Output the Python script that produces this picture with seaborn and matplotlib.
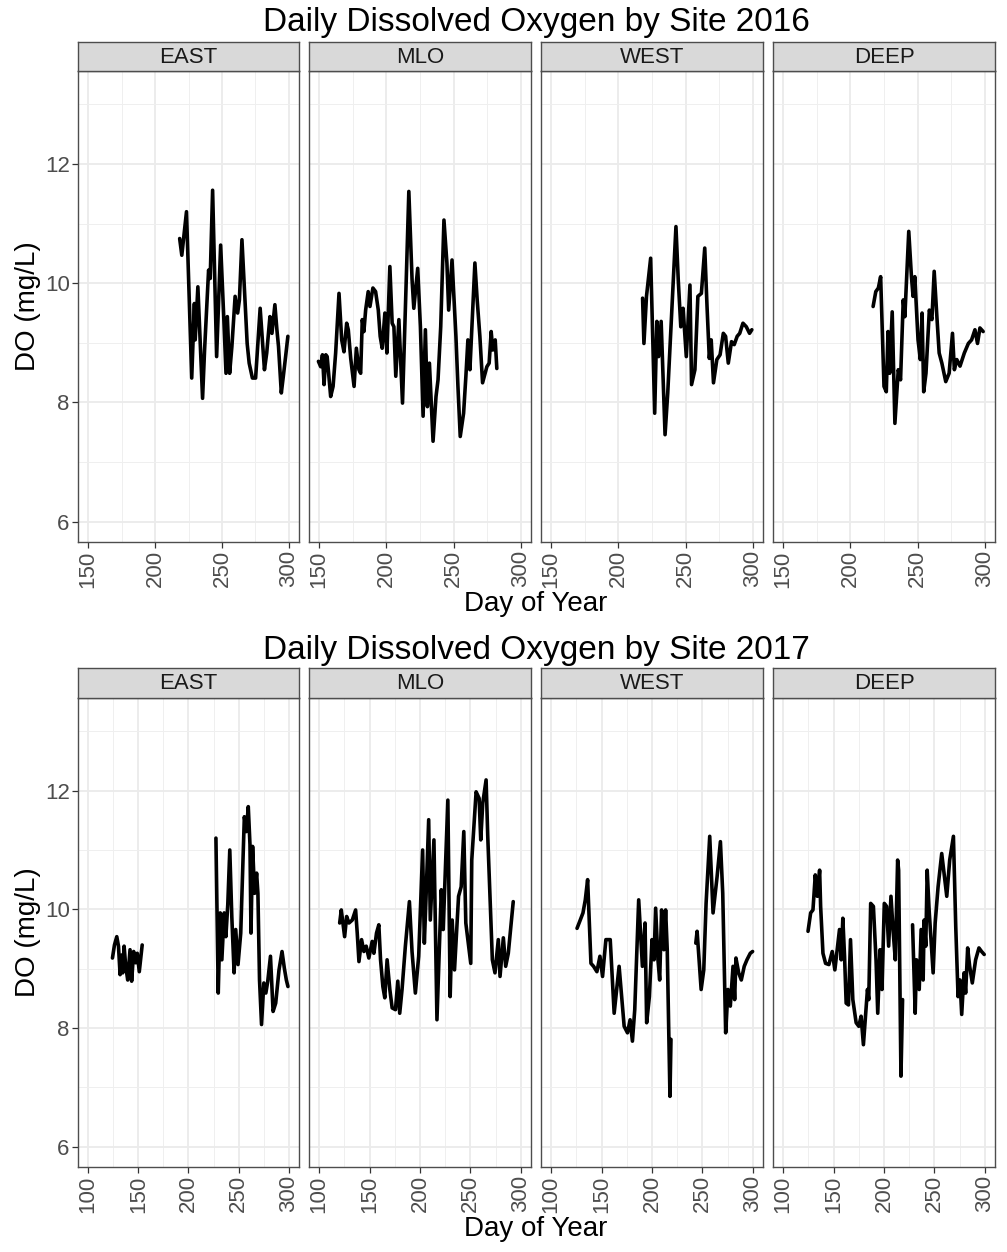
import numpy as np
import pandas as pd
import matplotlib
matplotlib.use("Agg")
import matplotlib.pyplot as plt
from matplotlib.ticker import MultipleLocator
import seaborn as sns

# ---------------------------------------------------------------------------
# Daily dissolved oxygen (mg/L) by day of year, per site and season
# ---------------------------------------------------------------------------
sites = ["EAST", "MLO", "WEST", "DEEP"]
years = [2016, 2017]

east_2016_day = [218.4, 220, 223.5, 227.4, 229.4, 230, 232, 235.5, 237, 240,
                 241.2, 243, 246, 249, 251.3, 253, 254, 255.7, 257.4, 259.8,
                 261.7, 263, 264.9, 266.4, 268.8, 270.3, 272.7, 275.1, 278.5, 281.7,
                 283.4, 285.8, 287.3, 289.5, 291, 292.2, 294.3, 295.8, 297.5, 299.2]
east_2016_do = [10.75, 10.47, 11.2, 8.41, 9.66, 9.05, 9.94, 8.07, 8.88, 10.22,
                10.08, 11.56, 8.77, 10.64, 9.44, 8.49, 9.44, 8.49, 8.94, 9.78,
                9.5, 9.72, 10.73, 10.06, 8.99, 8.66, 8.41, 8.41, 9.58, 8.55,
                8.83, 9.44, 9.16, 9.64, 9.22, 8.94, 8.16, 8.44, 8.77, 9.11]

mlo_2016_day = [149.5, 151.2, 152.5, 153.7, 155, 156, 158.6, 160.4, 162.3, 164.8,
                166.8, 168.5, 170.5, 171.7, 173.5, 176, 177.7, 179.6, 180.9, 182.1,
                183.3, 184.6, 186.5, 187.8, 190, 192, 194, 195.4, 196.9, 198.9,
                200.4, 202.6, 204.3, 205.6, 207, 209.3, 212, 214.7, 216.7, 219.1,
                220.4, 223.3, 225.3, 227.3, 229, 230.5, 232, 234.7, 236.9, 238.4,
                240.4, 242.8, 245, 246.3, 248.8, 251.7, 253.2, 254.9, 257.4, 259.1,
                260.6, 262.1, 265.8, 267.5, 269.5, 271.5, 274.7, 276.4, 277.9, 279.1,
                280.9, 282.1]
mlo_2016_do = [8.69, 8.60, 8.80, 8.30, 8.80, 8.77, 8.10, 8.27, 8.83, 9.83,
               9.05, 8.85, 9.33, 9.22, 8.74, 8.27, 8.91, 8.55, 8.49, 9.39,
               9.19, 9.55, 9.86, 9.61, 9.92, 9.86, 9.55, 9.11, 8.91, 9.50,
               8.83, 10.28, 9.33, 9.27, 8.44, 9.39, 7.99, 10.0, 11.54, 10.06,
               9.58, 10.25, 9.27, 7.77, 9.22, 7.93, 8.66, 7.35, 8.10, 8.38,
               9.27, 11.06, 10.34, 9.55, 10.39, 9.11, 8.27, 7.43, 7.82, 8.44,
               9.05, 8.55, 10.34, 9.72, 9.11, 8.33, 8.60, 8.66, 9.19, 8.88,
               9.05, 8.57]

west_2016_day = [218, 219, 220.9, 224, 227, 228.6, 229.9, 231.8, 234.7, 236.7,
                 242.8, 244.5, 246.4, 248.1, 250.5, 253.2, 254.4, 256.9, 259.1, 261.7,
                 264.2, 265.9, 267.6, 269, 270.7, 273.2, 275.6, 278, 279.7, 281.7,
                 284.1, 286.1, 288.3, 290.2, 292.6, 295.1, 297.5, 299.2]
west_2016_do = [9.75, 8.99, 9.78, 10.42, 7.82, 9.36, 8.77, 9.36, 7.46, 8.16,
                10.95, 10.06, 9.27, 9.58, 8.77, 9.97, 8.30, 8.55, 9.78, 9.83,
                10.59, 9.61, 8.74, 9.05, 8.33, 8.72, 8.80, 9.16, 9.11, 8.66,
                9.02, 8.97, 9.11, 9.16, 9.33, 9.27, 9.16, 9.22]

deep_2016_day = [216.9, 218.9, 220.8, 222.5, 225, 226.7, 228, 229.2, 231.1, 233.1,
                 235.6, 237.3, 239.3, 240.5, 243.4, 245.4, 246.6, 247.9, 250.3, 252,
                 253.3, 254.5, 256.2, 258.7, 260.6, 262.3, 264.3, 266, 268, 270.9,
                 273.4, 275.9, 277.3, 279.1, 281.5, 284.7, 287.7, 290.1, 292.6, 294.5,
                 296.3, 298.7]
deep_2016_do = [9.61, 9.86, 9.92, 10.11, 8.27, 8.18, 9.19, 8.49, 9.52, 7.65,
                8.55, 8.38, 9.72, 9.44, 10.87, 10.11, 9.78, 10.11, 9.05, 8.72,
                9.50, 8.18, 8.49, 9.55, 9.39, 10.20, 9.44, 8.83, 8.66, 8.35,
                8.49, 9.16, 8.55, 8.72, 8.61, 8.83, 8.99, 9.05, 9.22, 8.99,
                9.25, 9.19]

east_2017_day = [124.3, 126.3, 128.6, 130.3, 131.9, 133.6, 134.5, 135.9, 137.5, 139.5,
                 141.8, 143.4, 145.4, 147.4, 149, 151, 153.9,
                 227.3, 229.6, 231.6, 233.2, 235.5, 237.2, 239.1, 241.1, 243.1, 245.4,
                 247, 249.3, 252, 254.3, 255.6, 257.6, 259.5, 261.2, 262.2, 263.8,
                 265.8, 267.8, 269.1, 270.7, 272.7, 275, 277, 278.9, 281.6, 284.2,
                 286.8, 290.1, 293.1, 295.4, 297.4, 299]
east_2017_do = [9.18, 9.40, 9.54, 9.38, 8.90, 9.23, 8.93, 9.38, 9.04, 8.81,
                9.32, 8.79, 9.29, 9.10, 9.26, 8.95, 9.40,
                11.2, 8.59, 9.94, 9.15, 9.94, 9.54, 10.08, 11.0, 9.88, 8.93,
                9.66, 9.07, 9.60, 10.86, 11.56, 11.31, 11.73, 11.09, 9.60, 11.06,
                10.27, 10.61, 10.27, 8.81, 8.06, 8.76, 8.59, 8.79, 9.21, 8.28,
                8.42, 8.98, 9.29, 9.01, 8.81, 8.70]

mlo_2017_day = [120.4, 122, 125.3, 127.3, 129.6, 132.9, 136.2, 137.8, 139.5, 142.1,
                144.4, 146.7, 149.3, 152.6, 154.3, 156.9, 159.2, 160.9, 163.2, 165.1,
                167.4, 170.1, 172.4, 175.7, 178, 179.9, 182.2, 185.5, 189.5, 192.1,
                195.4, 198.7, 202.6, 204.3, 205.9, 208.6, 210.2, 213.8, 216.8, 221.1,
                223, 227.6, 229.9, 231.9, 234.2, 238.2, 240.8, 243.4, 245.4, 250.3,
                251.3, 255.6, 258.6, 260.2, 262.2, 265.5, 267.1, 271.7, 274.3, 277.6,
                279.3, 282.6, 284.9, 287.5, 292.4]
mlo_2017_do = [9.77, 9.99, 9.54, 9.88, 9.77, 9.82, 9.99, 9.60, 9.12, 9.49,
               9.29, 9.38, 9.18, 9.46, 9.26, 9.60, 9.74, 9.15, 8.70, 8.51,
               9.15, 8.65, 8.34, 8.31, 8.79, 8.25, 8.65, 9.38, 10.13, 9.29,
               8.59, 9.21, 11.0, 9.43, 10.16, 11.51, 9.82, 11.17, 8.14, 10.33,
               9.66, 11.84, 8.53, 9.82, 8.98, 10.22, 10.38, 11.31, 9.77, 9.09,
               10.83, 11.98, 11.87, 11.17, 11.79, 12.18, 11.25, 9.15, 8.93, 9.49,
               8.87, 9.52, 9.04, 9.26, 10.13]

west_2017_day = [125.7, 128.9, 131.6, 133.9, 136.2, 139.5, 142.1, 145.4, 148.4, 151,
                 154.3, 158.6, 162.5, 167.4, 172.4, 175.7, 178.3, 180.6, 182.9, 186.8,
                 190.5, 193.1, 194.7, 197.4, 200, 202, 203.6, 205.9, 207.6, 209.5,
                 211.8, 213.5, 215.1, 217.8, 218.8,
                 243.4, 244.7, 248.7, 251.3, 253.6, 257.2, 260.5, 264.5, 267.8, 270.1,
                 273, 275.3, 277.6, 280.3, 281.9, 283.2, 285.9, 288.5, 291.4, 294.1,
                 297.4, 299.7]
west_2017_do = [9.68, 9.82, 9.94, 10.16, 10.50, 9.09, 9.04, 8.95, 9.21, 8.87,
                9.49, 9.49, 8.25, 9.04, 8.03, 7.92, 8.14, 7.78, 8.31, 10.16,
                9.04, 9.77, 8.09, 8.53, 9.49, 9.15, 10.02, 9.15, 8.81, 9.99,
                9.32, 9.99, 9.32, 6.85, 7.81,
                9.43, 9.63, 8.65, 8.98, 10.10, 11.23, 9.94, 10.55, 11.14, 10.27,
                7.92, 8.65, 8.37, 9.04, 8.48, 9.18, 8.93, 8.81, 9.04, 9.15,
                9.26, 9.29]

deep_2017_day = [124.7, 127.3, 129.6, 131.9, 133.9, 136.2, 137.2, 139.5, 142.1, 145.4,
                 148.7, 151.3, 155.9, 157.6, 159.2, 160.9, 162.5, 164.8, 166.8, 169.1,
                 172.4, 175, 177.3, 179.6, 183.6, 184.9, 186.8, 189.5, 192.1, 193.8,
                 196.1, 198, 200.3, 202.6, 204.6, 206.9, 209.2, 211.2, 213.5, 214.5,
                 216.8, 218.4,
                 228.3, 230.9, 232.2, 234.9, 236.8, 238.8, 239.8, 241.4, 242.8, 244.7,
                 248.7, 250.7, 253.6, 257.2, 259.5, 262.2, 265.1, 268.8, 271.1, 273.4,
                 275.3, 277, 279.3, 280.9, 282.9, 284.9, 287.5, 290.8, 294.1, 296.7,
                 299.3]
deep_2017_do = [9.63, 9.94, 9.99, 10.58, 10.22, 10.66, 10.05, 9.26, 9.09, 9.07,
                9.29, 8.98, 9.66, 9.15, 9.85, 9.21, 8.42, 8.39, 9.49, 8.48,
                8.09, 8.03, 8.20, 7.72, 8.65, 8.48, 10.10, 10.05, 9.15, 8.25,
                9.32, 8.65, 10.10, 10.05, 9.38, 10.22, 9.60, 9.15, 10.83, 10.66,
                7.19, 8.48,
                9.74, 8.25, 9.15, 8.65, 9.66, 8.81, 9.82, 9.38, 10.66, 9.99,
                8.93, 9.77, 10.38, 10.94, 10.61, 10.22, 10.83, 11.23, 9.71, 8.53,
                8.81, 8.23, 8.93, 8.59, 9.35, 9.04, 8.76, 9.15, 9.35, 9.29,
                9.24]

series = {
    (2016, "EAST"): (east_2016_day, east_2016_do),
    (2016, "MLO"): (mlo_2016_day, mlo_2016_do),
    (2016, "WEST"): (west_2016_day, west_2016_do),
    (2016, "DEEP"): (deep_2016_day, deep_2016_do),
    (2017, "EAST"): (east_2017_day, east_2017_do),
    (2017, "MLO"): (mlo_2017_day, mlo_2017_do),
    (2017, "WEST"): (west_2017_day, west_2017_do),
    (2017, "DEEP"): (deep_2017_day, deep_2017_do),
}

frames = []
for (yr, site), (day, do) in series.items():
    d = pd.DataFrame({"year": yr, "site": site, "day": day, "do": do})
    # a break of more than a week in the record starts a new line segment
    d["segment"] = (d["day"].diff() > 8).cumsum()
    frames.append(d)
df = pd.concat(frames, ignore_index=True)

# ---------------------------------------------------------------------------
# Styling (theme_bw look)
# ---------------------------------------------------------------------------
sns.set_theme(style="white")
plt.rcParams["font.family"] = ["Liberation Sans", "DejaVu Sans"]

W, H = 1007, 1252
fig = plt.figure(figsize=(W / 100, H / 100), dpi=100)


def fx(px):
    return px / W


def fy(py):
    return 1 - py / H


panel_cols = [(78, 299), (309, 531), (541, 763), (773, 995)]
row_layout = {
    2016: dict(strip=42, top=71, bottom=542, title=22, xlabel=604,
               xlim=(142.5, 307.5)),
    2017: dict(strip=668, top=698, bottom=1167, title=650, xlabel=1229,
               xlim=(90, 310)),
}
ylim = (5.66, 13.56)
border = "#4D4D4D"

for yr in years:
    lay = row_layout[yr]
    for j, site in enumerate(sites):
        x0, x1 = panel_cols[j]
        ax = fig.add_axes([fx(x0), fy(lay["bottom"]), (x1 - x0) / W,
                           (lay["bottom"] - lay["top"]) / H])
        sub = df[(df["year"] == yr) & (df["site"] == site)]
        sns.lineplot(data=sub, x="day", y="do", units="segment",
                     estimator=None, color="black", linewidth=2.6, ax=ax)
        ax.set_xlim(*lay["xlim"])
        ax.set_ylim(*ylim)
        ax.xaxis.set_major_locator(MultipleLocator(50))
        ax.xaxis.set_minor_locator(MultipleLocator(25))
        ax.yaxis.set_major_locator(MultipleLocator(2))
        ax.yaxis.set_minor_locator(MultipleLocator(1))
        ax.set_axisbelow(True)
        ax.grid(which="major", color="#EBEBEB", linewidth=1.3)
        ax.grid(which="minor", color="#EFEFEF", linewidth=0.7)
        ax.set_facecolor("white")
        for sp in ax.spines.values():
            sp.set_color(border)
            sp.set_linewidth(1.0)
        ax.set_xlabel("")
        ax.set_ylabel("")
        ax.tick_params(axis="x", which="major", bottom=True, length=4,
                       width=0.9, color="#333333", labelsize=16,
                       labelcolor="#4D4D4D", labelrotation=90, pad=2)
        ax.tick_params(axis="x", which="minor", bottom=False)
        if j == 0:
            ax.tick_params(axis="y", which="major", left=True, length=4,
                           width=0.9, color="#333333", labelsize=16,
                           labelcolor="#4D4D4D", pad=2)
        else:
            ax.tick_params(axis="y", which="major", left=False,
                           labelleft=False)
        ax.tick_params(axis="y", which="minor", left=False)

        # facet strip
        sax = fig.add_axes([fx(x0), fy(lay["top"]), (x1 - x0) / W,
                            (lay["top"] - lay["strip"]) / H])
        sax.set_facecolor("#D9D9D9")
        sax.set_xticks([])
        sax.set_yticks([])
        for sp in sax.spines.values():
            sp.set_color(border)
            sp.set_linewidth(1.0)
        sax.text(0.5, 0.47, site, ha="center", va="center", fontsize=16,
                 color="#1A1A1A", transform=sax.transAxes)

    fig.text(fx(536), fy(lay["title"]),
             f"Daily Dissolved Oxygen by Site {yr}",
             ha="center", va="center", fontsize=24, color="black")
    fig.text(fx(536), fy(lay["xlabel"]), "Day of Year",
             ha="center", va="center", fontsize=20, color="black")
    fig.text(fx(28), fy((lay["top"] + lay["bottom"]) / 2), "DO (mg/L)",
             ha="center", va="center", rotation=90, fontsize=20,
             color="black")

fig.savefig("out.png", dpi=100, facecolor="white")
